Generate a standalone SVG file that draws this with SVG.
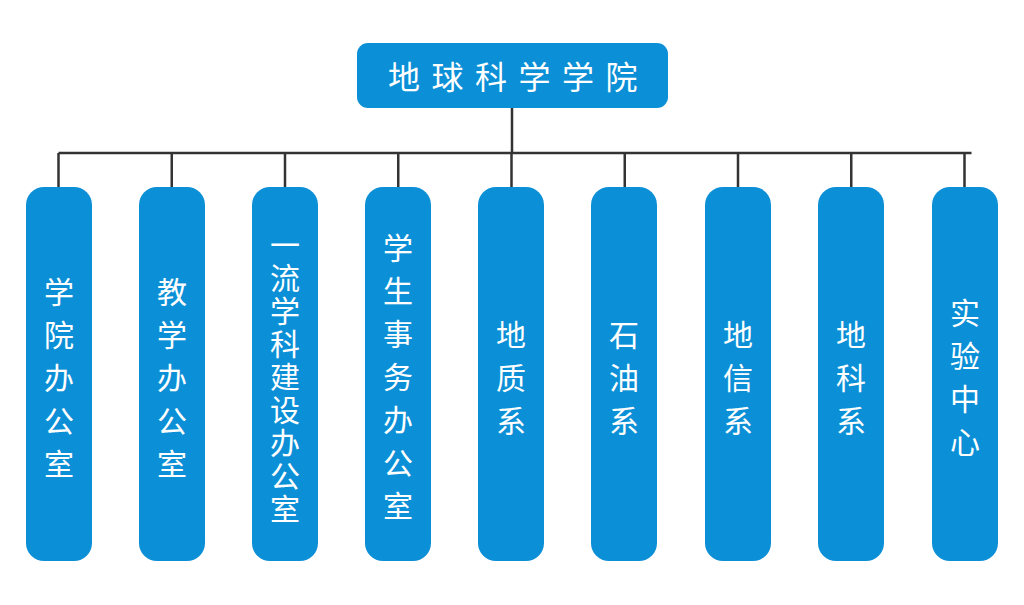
<svg xmlns="http://www.w3.org/2000/svg" width="1024" height="605" viewBox="0 0 1024 605">
<style>
.box{fill:#0b8fd6;}
.t{fill:#fff;font-family:"Noto Sans CJK SC","Noto Sans",sans-serif;font-size:30px;text-anchor:middle;dominant-baseline:central;}
.h{font-size:32px;}
.c{fill:none;stroke:#333;stroke-width:2.5;}
</style>
<rect width="1024" height="605" fill="#fff"/>
<g id="connectors">
<path class="c" d="M512 108V153M58.5 153H971.5M58.5 153V187M171.75 153V187M285 153V187M398.25 153V187M511.5 153V187M624.75 153V187M738 153V187M851.25 153V187M964.5 153V187"/>
</g>
<g id="root">
<rect class="box" x="357" y="43" width="311" height="65" rx="11"/>
<text class="t h" y="75"><tspan x="404">地</tspan><tspan x="447.5">球</tspan><tspan x="491">科</tspan><tspan x="534.5">学</tspan><tspan x="578">学</tspan><tspan x="621.5">院</tspan></text>
</g>
<g id="n1">
<rect class="box" x="26" y="187" width="66" height="374" rx="18"/>
<text class="t"><tspan x="59" y="290">学</tspan><tspan x="59" y="333">院</tspan><tspan x="59" y="376">办</tspan><tspan x="59" y="419">公</tspan><tspan x="59" y="462">室</tspan></text>
</g>
<g id="n2">
<rect class="box" x="139" y="187" width="66" height="374" rx="18"/>
<text class="t"><tspan x="172" y="290">教</tspan><tspan x="172" y="333">学</tspan><tspan x="172" y="376">办</tspan><tspan x="172" y="419">公</tspan><tspan x="172" y="462">室</tspan></text>
</g>
<g id="n3">
<rect class="box" x="252" y="187" width="66" height="374" rx="18"/>
<text class="t"><tspan x="285" y="243">一</tspan><tspan x="285" y="276">流</tspan><tspan x="285" y="309">学</tspan><tspan x="285" y="342">科</tspan><tspan x="285" y="375">建</tspan><tspan x="285" y="408">设</tspan><tspan x="285" y="441">办</tspan><tspan x="285" y="474">公</tspan><tspan x="285" y="507">室</tspan></text>
</g>
<g id="n4">
<rect class="box" x="365" y="187" width="66" height="374" rx="18"/>
<text class="t"><tspan x="398" y="246">学</tspan><tspan x="398" y="289">生</tspan><tspan x="398" y="332">事</tspan><tspan x="398" y="375">务</tspan><tspan x="398" y="418">办</tspan><tspan x="398" y="461">公</tspan><tspan x="398" y="504">室</tspan></text>
</g>
<g id="n5">
<rect class="box" x="478" y="187" width="66" height="374" rx="18"/>
<text class="t"><tspan x="511" y="333">地</tspan><tspan x="511" y="376">质</tspan><tspan x="511" y="419">系</tspan></text>
</g>
<g id="n6">
<rect class="box" x="591" y="187" width="66" height="374" rx="18"/>
<text class="t"><tspan x="624" y="333">石</tspan><tspan x="624" y="376">油</tspan><tspan x="624" y="419">系</tspan></text>
</g>
<g id="n7">
<rect class="box" x="705" y="187" width="66" height="374" rx="18"/>
<text class="t"><tspan x="738" y="333">地</tspan><tspan x="738" y="376">信</tspan><tspan x="738" y="419">系</tspan></text>
</g>
<g id="n8">
<rect class="box" x="818" y="187" width="66" height="374" rx="18"/>
<text class="t"><tspan x="851" y="333">地</tspan><tspan x="851" y="376">科</tspan><tspan x="851" y="419">系</tspan></text>
</g>
<g id="n9">
<rect class="box" x="932" y="187" width="66" height="374" rx="18"/>
<text class="t"><tspan x="965" y="311">实</tspan><tspan x="965" y="354">验</tspan><tspan x="965" y="397">中</tspan><tspan x="965" y="440">心</tspan></text>
</g>
</svg>
